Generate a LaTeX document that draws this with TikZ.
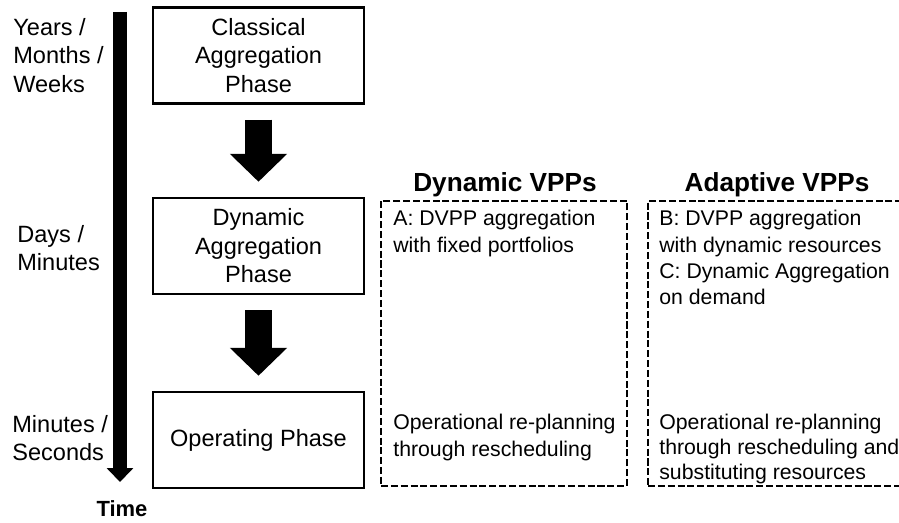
\documentclass[tikz,border=0pt]{standalone}
\usepackage{fontspec}
\setmainfont{Liberation Sans}
\usetikzlibrary{positioning, arrows.meta}

\begin{document}
\begin{tikzpicture}[ % one unit is one pixel of the 899x523 layout
x=0.02cm, y=-0.02cm,
phase_box/.style={rectangle, draw=black, fill=white, line width=1.3pt, align=center, minimum width=4.22cm, minimum height=1.92cm, font=\fontsize{13.4}{16.2}\selectfont},
vpp_box/.style={rectangle, draw=black, line width=1.3pt, dash pattern=on 4pt off 1.6pt, minimum height=5.7cm},
vpp_title/.style={anchor=base, inner sep=0pt, font=\fontsize{14.9}{18}\selectfont\bfseries},
vpp_text/.style={anchor=north west, inner sep=0pt, align=left, font=\fontsize{12.1}{15}\selectfont},
scale_text/.style={anchor=north west, inner sep=0pt, align=left, font=\fontsize{13.4}{16.2}\selectfont},
time_label/.style={inner sep=0pt, font=\fontsize{12.5}{15}\selectfont\bfseries},
phase_arrow/.style={-{Triangle[width=31.7pt, length=15.9pt]}, line width=15.9pt, shorten <=8.6pt, shorten >=8.6pt},
time_arrow/.style={-{Triangle[width=14.7pt, length=7.9pt]}, line width=7.9pt}
]

\useasboundingbox (0,0) rectangle (899,523);

\coordinate (time_start) at (120,12);
\coordinate (time_end) at (120,482);

\node[scale_text](years_label) at (13,18) {Years /\\Months /\\Weeks};
\node[scale_text](days_label) at (17,225) {Days /\\Minutes};
\node[scale_text](seconds_label) at (12,415) {Minutes /\\Seconds};
\node[time_label](time_label) at (122,509) {Time};

\node[phase_box](classical_phase) at (258.5,55.5) {Classical\\Aggregation\\Phase};
\node[phase_box](dynamic_phase) at (258.5,246) {Dynamic\\Aggregation\\Phase};
\node[phase_box](operating_phase) at (258.5,440) {Operating Phase};

\node[vpp_box, minimum width=4.92cm](dynamic_vpp) at (504,343.5) {};
\node[vpp_box, minimum width=5.4cm](adaptive_vpp) at (783,343.5) {};

\node[vpp_title](dynamic_title) at (505,192) {Dynamic VPPs};
\node[vpp_title](adaptive_title) at (777,192) {Adaptive VPPs};

\node[vpp_text](dynamic_plan) at (393,210) {A: DVPP aggregation\\with fixed portfolios};
\node[vpp_text](dynamic_operate) at (393,414) {Operational re-planning\\through rescheduling};
\node[vpp_text](adaptive_plan) at (659,210) {B: DVPP aggregation\\with dynamic resources\\C: Dynamic Aggregation\\on demand};
\node[vpp_text, font=\fontsize{12.1}{14.2}\selectfont](adaptive_operate) at (659,414) {Operational re-planning\\through rescheduling and\\substituting resources};

\draw[time_arrow](time_start) to [] (time_end);

\draw[phase_arrow](classical_phase) to [] (dynamic_phase);
\draw[phase_arrow](dynamic_phase) to [] (operating_phase);

\end{tikzpicture}
\end{document}
